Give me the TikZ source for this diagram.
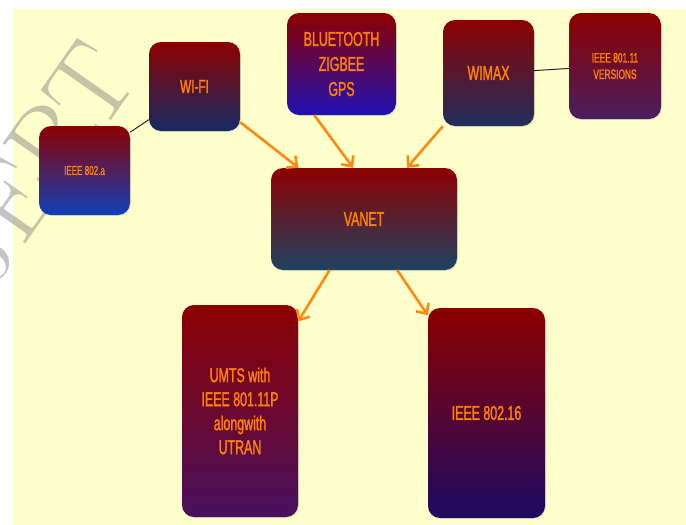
\documentclass[tikz,border=0pt]{standalone}
\usepackage{fontspec}
\usepackage{tikz}
\usetikzlibrary{shadows,arrows.meta}
\newfontfamily\boxfont[FakeStretch=0.62,FakeBold=1.5]{Liberation Sans}
\definecolor{paper}{HTML}{FFFFCC}
\definecolor{boxtop}{HTML}{8C0000}
\definecolor{txtorange}{HTML}{FF8000}
\definecolor{linkorange}{HTML}{FF8A10}
\definecolor{wifibot}{HTML}{142A62}
\definecolor{abot}{HTML}{1040BA}
\definecolor{bluebot}{HTML}{2010B4}
\definecolor{wimaxbot}{HTML}{202F5E}
\definecolor{versbot}{HTML}{4A1E5E}
\definecolor{vanetbot}{HTML}{1F4262}
\definecolor{umtsbot}{HTML}{48105E}
\definecolor{sixteenbot}{HTML}{1E0A62}

\begin{document}
\begin{tikzpicture}[x=1pt,y=-1pt, >={Straight Barb[length=8pt,width=15pt]},
		netbox/.style={rounded corners=12pt, top color=boxtop, text=txtorange, align=center, inner sep=0pt,
			font=\boxfont\fontsize{20}{24}\selectfont,
			drop shadow={opacity=0.2,shadow xshift=1pt,shadow yshift=-1pt}},
		feed/.style={->, draw=linkorange, line width=2.6pt},
		tie/.style={draw=black!85, line width=1pt}]
		\useasboundingbox (0,0) rectangle (686,525);
		\fill[white] (0,0) rectangle (686,525);
		\fill[paper] (13,9) rectangle (686,525);
		\begin{scope}
			\clip (0,0) rectangle (686,525);
			\node[anchor=east, rotate=55, inner sep=0pt, text=black!55, opacity=0.42, font=\rmfamily\fontsize{110}{110}\selectfont] (mark) at (112,56) {IJERT};
		\end{scope}

		\node[netbox, bottom color=wifibot, minimum width=91pt, minimum height=89pt, font=\boxfont\fontsize{19}{23}\selectfont] (wifi) at (194.5,86.5) {WI-FI};
		\node[netbox, bottom color=abot, minimum width=91pt, minimum height=89pt, font=\boxfont\fontsize{13}{16}\selectfont] (ieeea) at (84.5,170.5) {IEEE 802.a};
		\node[netbox, bottom color=bluebot, minimum width=109pt, minimum height=102pt, font=\boxfont\fontsize{20}{25}\selectfont] (blue) at (341.5,64) {BLUETOOTH\\ZIGBEE\\GPS};
		\node[netbox, bottom color=wimaxbot, minimum width=91pt, minimum height=106pt] (wimax) at (488.5,73) {WIMAX};
		\node[netbox, bottom color=versbot, minimum width=92pt, minimum height=106pt, font=\boxfont\fontsize{13.5}{16.5}\selectfont] (vers) at (615,66) {IEEE 801.11\\VERSIONS};
		\node[netbox, bottom color=vanetbot, minimum width=186pt, minimum height=102pt] (vanet) at (364,219) {VANET};
		\node[netbox, bottom color=umtsbot, minimum width=116pt, minimum height=212pt] (umts) at (240,411) {UMTS with\\IEEE 801.11P\\alongwith\\UTRAN};
		\node[netbox, bottom color=sixteenbot, minimum width=117pt, minimum height=210pt] (sixteen) at (486.5,413) {IEEE 802.16};

		\draw[tie] (ieeea.40) -- (wifi.216);
		\draw[tie] (wimax.3) -- (vers.183);

		\draw[feed] (wifi.-38) -- (vanet.142);
		\draw[feed] (blue.242) -- (vanet.102);
		\draw[feed] (wimax.south west) -- (vanet.50);
		\draw[feed] (vanet.236) -- (umts.57);
		\draw[feed] (vanet.303) -- (sixteen.121);
	\end{tikzpicture}
\end{document}
